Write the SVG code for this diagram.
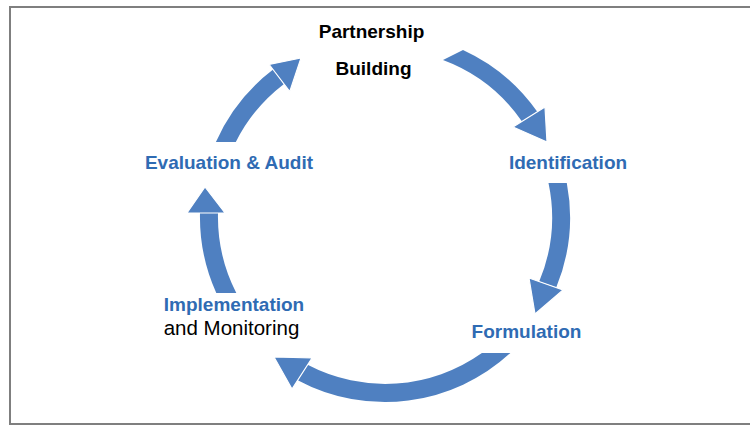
<svg xmlns="http://www.w3.org/2000/svg" width="750" height="428" viewBox="0 0 750 428">
<style>
.frame{fill:#fff;stroke:#7f7f7f;stroke-width:2}
.shaft{fill:#4F80C1}
.head{fill:#4F80C1;stroke:#fff;stroke-width:1.2;stroke-linejoin:miter}
.lbl{font-family:"Liberation Sans",Arial,sans-serif;font-size:19px;font-weight:bold;text-anchor:middle}
.blue{fill:#2F6BB3}
.black{fill:#000}
.reg{font-weight:normal;font-size:20.5px}
</style>
<rect class="frame" x="10" y="7" width="760" height="417"/>
<g id="connectors">
  <g id="arrow-partnership-identification">
    <path class="shaft" d="M463,50 A185 185 0 0 1 537.3,111.8 L522,121.4 A167 167 0 0 0 443,60 Z"/>
    <polygon class="head" points="513,127 545,107 547,142"/>
  </g>
  <g id="arrow-identification-formulation">
    <path class="shaft" d="M566.8,183 A185 185 0 0 1 556.2,287.6 L539.2,281.6 A167 167 0 0 0 548.5,183 Z"/>
    <polygon class="head" points="529,278 563,290 535,314"/>
  </g>
  <g id="arrow-formulation-implementation">
    <path class="shaft" d="M510.4,353 A185 185 0 0 1 297.7,380.2 L307.6,364.8 A167 167 0 0 0 481.9,353 Z"/>
    <polygon class="head" points="312,358 292,389 274,357"/>
  </g>
  <g id="arrow-implementation-evaluation">
    <path class="shaft" d="M216.3,293 A185 185 0 0 1 200,213 L218,213 A167 167 0 0 0 236.3,293 Z"/>
    <polygon class="head" points="187,213 225,213 205,187"/>
  </g>
  <g id="arrow-evaluation-partnership">
    <path class="shaft" d="M215.9,142 A185 185 0 0 1 273.1,69.6 L284,83.9 A167 167 0 0 0 235.8,142 Z"/>
    <polygon class="head" points="269.2,64.5 289.8,91.5 301,58"/>
  </g>
</g>
<g id="node-partnership">
  <text class="lbl black" x="371.5" y="38">Partnership</text>
  <text class="lbl black" x="373.5" y="75">Building</text>
</g>
<g id="node-identification">
  <text class="lbl blue" x="568" y="169">Identification</text>
</g>
<g id="node-formulation">
  <text class="lbl blue" x="526.5" y="338">Formulation</text>
</g>
<g id="node-implementation">
  <text class="lbl blue" x="234" y="311">Implementation</text>
  <text class="lbl black reg" x="231.5" y="335">and Monitoring</text>
</g>
<g id="node-evaluation">
  <text class="lbl blue" x="229" y="169">Evaluation &amp; Audit</text>
</g>
</svg>
